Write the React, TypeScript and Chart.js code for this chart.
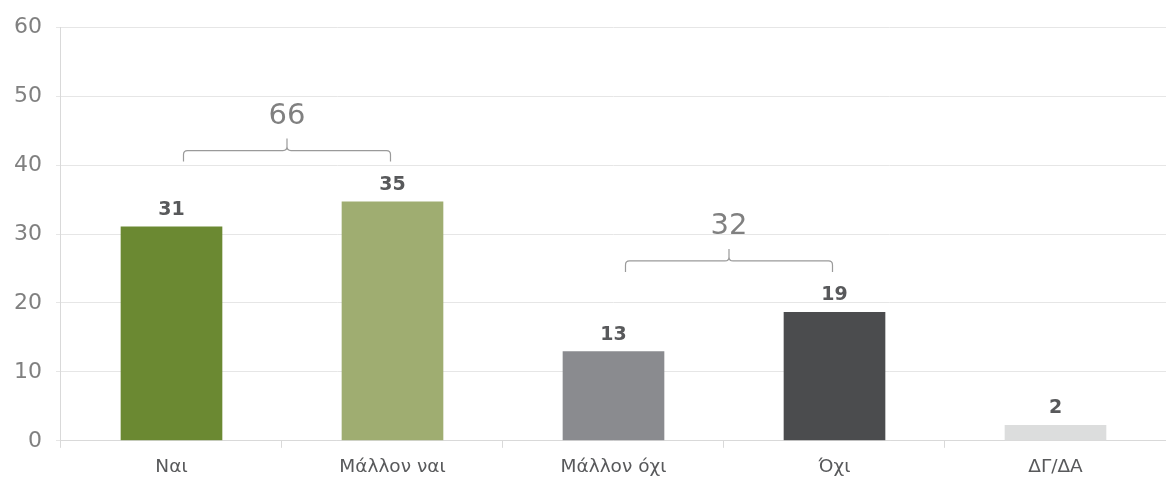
import React, { useEffect, useRef } from "react";
import { Chart, registerables } from "chart.js";

Chart.register(...registerables);

const categories = ["Ναι", "Μάλλον ναι", "Μάλλον όχι", "Όχι", "ΔΓ/ΔΑ"];
const values = [31.1, 34.7, 13, 18.7, 2.3];
const valueLabels = ["31", "35", "13", "19", "2"];
const barColors = ["#6b8932", "#9fad71", "#8a8b8f", "#4b4c4e", "#dcdddd"];
const yTicks = [0, 10, 20, 30, 40, 50, 60];
const groupFrom = [0, 2];
const groupTo = [1, 3];
const groupTotals = ["66", "32"];
const groupLevels = [42.1, 26.1];

const FONT = "'DejaVu Sans', sans-serif";

const valueLabelPlugin = {
  id: "valueLabels",
  afterDatasetsDraw(chart: any) {
    const ctx = chart.ctx;
    const meta = chart.getDatasetMeta(0);
    ctx.save();
    ctx.font = `bold 19px ${FONT}`;
    ctx.fillStyle = "#58595b";
    ctx.textAlign = "center";
    ctx.textBaseline = "bottom";
    meta.data.forEach((bar: any, i: number) => {
      ctx.fillText(valueLabels[i], bar.x, bar.y - 7);
    });
    ctx.restore();
  },
};

const bracketPlugin = {
  id: "brackets",
  afterDatasetsDraw(chart: any) {
    const ctx = chart.ctx;
    const xs = chart.scales.x;
    const ys = chart.scales.y;
    ctx.save();
    ctx.strokeStyle = "#9a9a9a";
    ctx.lineWidth = 1.2;
    groupTotals.forEach((label, g) => {
      const x1 = xs.getPixelForValue(groupFrom[g]) + 12;
      const x2 = xs.getPixelForValue(groupTo[g]) - 2;
      const y = ys.getPixelForValue(groupLevels[g]);
      const xm = (x1 + x2) / 2;
      const r = 4;
      const drop = 11;
      ctx.beginPath();
      ctx.moveTo(x1, y + drop);
      ctx.lineTo(x1, y + r);
      ctx.quadraticCurveTo(x1, y, x1 + r, y);
      ctx.lineTo(xm - r, y);
      ctx.quadraticCurveTo(xm, y, xm, y - r);
      ctx.lineTo(xm, y - 12);
      ctx.moveTo(xm, y - r);
      ctx.quadraticCurveTo(xm, y, xm + r, y);
      ctx.lineTo(x2 - r, y);
      ctx.quadraticCurveTo(x2, y, x2, y + r);
      ctx.lineTo(x2, y + drop);
      ctx.stroke();
      ctx.font = `29px ${FONT}`;
      ctx.fillStyle = "#808080";
      ctx.textAlign = "center";
      ctx.textBaseline = "bottom";
      ctx.fillText(label, xm, y - 20);
    });
    ctx.restore();
  },
};

export default function App() {
  const ref = useRef<HTMLCanvasElement>(null);
  useEffect(() => {
    document.body.style.margin = "0";
    const chart = new Chart(ref.current!, {
      type: "bar",
      data: {
        labels: categories,
        datasets: [
          {
            data: values,
            backgroundColor: barColors,
            barPercentage: 0.92,
            categoryPercentage: 0.5,
          },
        ],
      },
      options: {
        animation: false,
        responsive: false,
        maintainAspectRatio: false,
        layout: { padding: { top: 1, right: 0, left: 0, bottom: -9 } },
        plugins: { legend: { display: false }, tooltip: { enabled: false } },
        scales: {
          x: {
            grid: {
              offset: true,
              drawOnChartArea: false,
              drawTicks: true,
              tickLength: 7,
              color: "#d9d9d9",
            },
            border: { color: "#d9d9d9" },
            ticks: {
              color: "#58595b",
              font: { family: FONT, size: 18.5 },
              padding: 8,
            },
          },
          y: {
            min: 0,
            max: 60,
            afterBuildTicks(axis: any) {
              axis.ticks = yTicks.map((v) => ({ value: v }));
            },
            grid: { color: "#e6e6e6", tickLength: 5 },
            border: { color: "#d9d9d9" },
            ticks: {
              color: "#808080",
              font: { family: FONT, size: 22 },
              padding: 14,
            },
          },
        },
      },
      plugins: [valueLabelPlugin, bracketPlugin],
    });
    return () => chart.destroy();
  }, []);
  return (
    <div style={{ width: 1166, height: 477 }}>
      <canvas ref={ref} width={1166} height={477} style={{ display: "block" }} />
    </div>
  );
}
